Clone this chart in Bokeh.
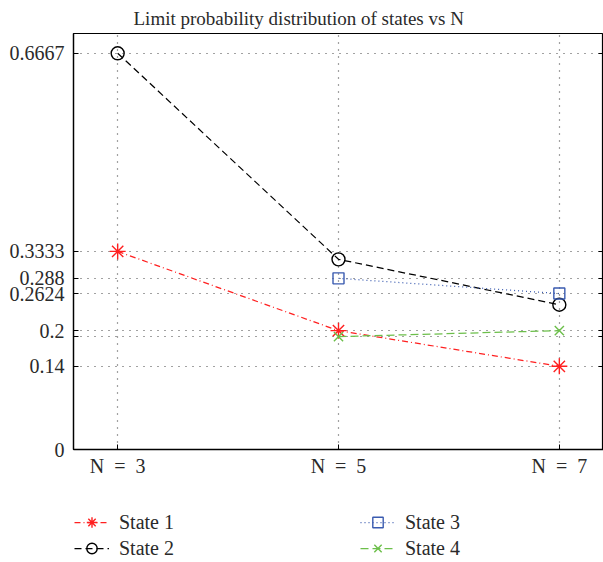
from bokeh.plotting import figure
from bokeh.layouts import column
from bokeh.models import FixedTicker, LinearAxis, Range1d, Legend, LegendItem, Title
from bokeh.embed import file_html
from bokeh.resources import INLINE

# ---- data ----
n_values = [3, 5, 7]
x_tick_labels = ["N\u2002=\u20023", "N\u2002=\u20025", "N\u2002=\u20027"]
state1 = [0.3333, 0.2, 0.14]
state2 = [0.6667, 0.32, 0.2436]
state3_n = [5, 7]
state3 = [0.288, 0.2624]
state4_n = [5, 7]
state4 = [0.19, 0.2]
y_ticks = [0, 0.14, 0.19, 0.2, 0.2624, 0.288, 0.3333, 0.6667]
y_tick_labels = ["0", "0.14", "", "0.2", "0.2624", "0.288", "0.3333", "0.6667"]
series_labels = ["State 1", "State 2", "State 3", "State 4"]

FONT = "Liberation Serif"
TXT = "#2a2a2a"
RED = "#ff2020"
BLUE = "#3a5bb0"
GREEN = "#6cbf4a"

p = figure(width=603, height=507, output_backend="svg", toolbar_location=None,
           x_range=Range1d(2.6, 7.4), y_range=Range1d(0, 0.7),
           min_border_left=73, min_border_top=32, min_border_right=0, min_border_bottom=58)
p.outline_line_color = "black"
p.outline_line_width = 1.2

p.add_layout(Title(text="Limit probability distribution of states vs N", text_font=FONT,
                   text_font_size="19px", text_font_style="normal", text_color=TXT,
                   text_line_height=1.0, align="left", offset=60, standoff=10), "above")

xt = FixedTicker(ticks=n_values)
yt = FixedTicker(ticks=y_ticks)
p.xaxis.ticker = xt
p.yaxis.ticker = yt
p.xaxis.major_label_overrides = {n: l for n, l in zip(n_values, x_tick_labels)}
p.yaxis.major_label_overrides = {t: l for t, l in zip(y_ticks, y_tick_labels)}
for ax in (p.xaxis, p.yaxis):
    ax.major_label_text_font = FONT
    ax.major_label_text_font_size = "20px"
    ax.major_label_text_color = TXT
    ax.axis_line_color = "black"
    ax.axis_line_width = 1.3
    ax.major_tick_in = 5
    ax.major_tick_out = 0
    ax.minor_tick_line_color = None
    ax.major_tick_line_color = "black"
p.yaxis.major_label_standoff = 9
p.xaxis.major_label_standoff = 5

ra = LinearAxis(ticker=yt, major_label_overrides={t: "" for t in y_ticks},
                major_label_standoff=0, major_tick_in=5, major_tick_out=0,
                minor_tick_line_color=None, axis_line_color="black")
p.add_layout(ra, "right")

p.xgrid.ticker = xt
p.ygrid.ticker = yt
for g in (p.xgrid, p.ygrid):
    g.grid_line_color = "#444444"
    g.grid_line_dash = "1 6"
    g.grid_line_width = 1.2

styles = [
    dict(color=RED, dash="6 3 1 3", marker="asterisk", size=16, fill=RED),
    dict(color="black", dash="7 4", marker="circle", size=13, fill=None),
    dict(color=BLUE, dash="1 3", marker="square", size=11, fill=None),
    dict(color=GREEN, dash="8 4", marker="x", size=13, fill=GREEN),
]
xs = [n_values, n_values, state3_n, state4_n]
ys = [state1, state2, state3, state4]

for x, y, s in zip(xs, ys, styles):
    p.line(x, y, line_color=s["color"], line_dash=s["dash"], line_width=1.25)
    p.scatter(x, y, marker=s["marker"], size=s["size"], line_color=s["color"],
              fill_color=s["fill"], line_width=1.4)

# ---- legend strip below the chart (its series lie outside its range, so only
#      the legend glyphs show) ----
pl = figure(width=603, height=55, output_backend="svg", toolbar_location=None,
            x_range=Range1d(100, 101), y_range=Range1d(100, 101),
            x_axis_type=None, y_axis_type=None,
            min_border_left=0, min_border_right=0, min_border_top=0, min_border_bottom=0)
pl.outline_line_color = None

items = {}
for lab, x, y, s in zip(series_labels, xs, ys, styles):
    rl = pl.line(x, y, line_color=s["color"], line_dash=s["dash"], line_width=1.25)
    rm = pl.scatter(x, y, marker=s["marker"], size=s["size"], line_color=s["color"],
                    fill_color=s["fill"], line_width=1.4)
    items[lab] = LegendItem(label=lab, renderers=[rl, rm])

legend = Legend(items=[items["State 1"], items["State 3"], items["State 2"], items["State 4"]],
                ncols=2, orientation="horizontal", location=(1, 1))
legend.label_text_font = FONT
legend.label_text_font_size = "20px"
legend.label_text_color = TXT
legend.glyph_width = 35
legend.glyph_height = 26
legend.label_height = 20
legend.label_standoff = 10
legend.label_width = 241
legend.spacing = 0
legend.padding = 0
legend.margin = 0
legend.border_line_alpha = 0
legend.background_fill_alpha = 0
pl.add_layout(legend, "center")

layout = column(p, pl, spacing=0)
open("out.html", "w").write(file_html(layout, INLINE))
